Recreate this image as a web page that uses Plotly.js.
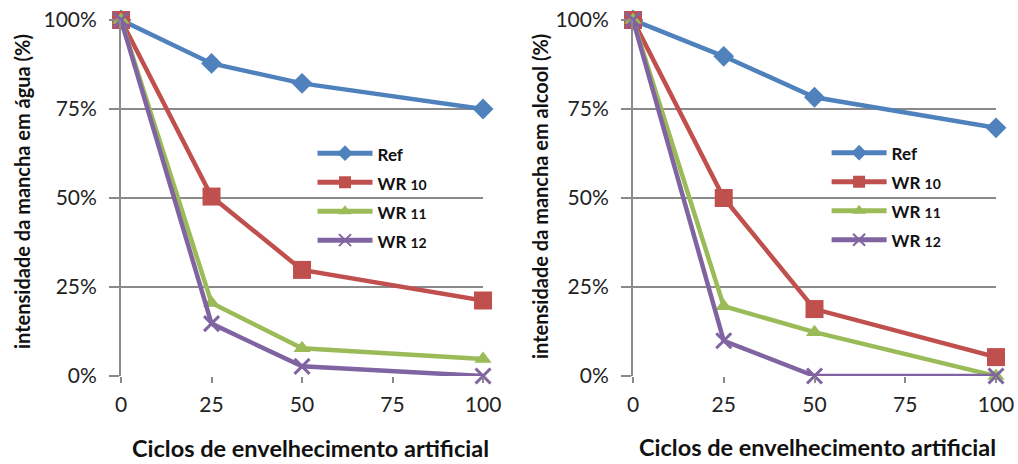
<!DOCTYPE html>
<html><head><meta charset="utf-8">
<script src="https://cdn.plot.ly/plotly-3.0.1.min.js"></script>
<style>html,body{margin:0;padding:0;background:#fff}#chart{width:1018px;height:464px}</style>
</head><body><div id="chart"></div>
<script>
const cycles = [0, 25, 50, 100];
const seriesNames = ['Ref', 'WR 10', 'WR 11', 'WR 12'];
const legendLabels = ['<span style="font-size:17px">Ref</span>',
  '<span style="font-size:17px">WR </span><span style="font-size:14px">10</span>',
  '<span style="font-size:17px">WR </span><span style="font-size:14px">11</span>',
  '<span style="font-size:17px">WR </span><span style="font-size:14px">12</span>'];
// water
const aguaRef  = [1.00, 0.878, 0.822, 0.750];
const aguaWR10 = [1.00, 0.504, 0.298, 0.212];
const aguaWR11 = [1.00, 0.205, 0.078, 0.048];
const aguaWR12 = [1.00, 0.147, 0.027, 0.000];
// alcohol
const alcoolRef  = [1.00, 0.898, 0.783, 0.697];
const alcoolWR10 = [1.00, 0.500, 0.188, 0.053];
const alcoolWR11 = [1.00, 0.196, 0.123, 0.000];
const alcoolWR12 = [1.00, 0.099, 0.000, 0.000];
const yTickVals = [0, 0.25, 0.5, 0.75, 1];
const yTickText = ['0%', '25%', '50%', '75%', '100%'];
const xTickVals = [0, 25, 50, 75, 100];
const yTitleLeft = 'intensidade da mancha em água (%)';
const yTitleRight = 'intensidade da mancha em alcool (%)';
const xTitle = 'Ciclos de envelhecimento artificial';

const colors = ['#4F81BD', '#C0504D', '#9BBB59', '#8064A2'];
const symbols = ['diamond', 'square', 'triangle-up', 'x-thin'];
const sizes = [16, 18, 15, 15];
const FONT = 'Lato, "Open Sans", sans-serif';

function mk(vals, i, xa, ya, leg) {
  const sym = symbols[i];
  return {
    x: cycles, y: vals, type: 'scatter', mode: 'lines+markers',
    name: legendLabels[i], xaxis: xa, yaxis: ya, legend: leg,
    line: {color: colors[i], width: 4.5},
    marker: {symbol: sym, size: sizes[i], color: colors[i],
             line: {color: colors[i], width: sym === 'x-thin' ? 3 : 0}},
    cliponaxis: false, hoverinfo: 'skip'
  };
}
const agua = [aguaRef, aguaWR10, aguaWR11, aguaWR12];
const alcool = [alcoolRef, alcoolWR10, alcoolWR11, alcoolWR12];
const traces = [];
agua.forEach((v, i) => traces.push(mk(v, i, 'x', 'y', 'legend')));
alcool.forEach((v, i) => traces.push(mk(v, i, 'x2', 'y2', 'legend2')));

const gridC = '#8a8a8a';
function xax(dom, anchor) {
  return {domain: dom, anchor: anchor, range: [0, 100], tickvals: xTickVals,
    ticks: 'outside', ticklen: 6, tickwidth: 2, tickcolor: gridC,
    showgrid: false, zeroline: false, showline: false,
    tickfont: {family: FONT, size: 21, color: '#222'}, ticklabelstandoff: 4, automargin: false, fixedrange: true};
}
function yax(anchor) {
  return {domain: [0.1897, 0.9569], anchor: anchor, range: [0, 1], tickvals: yTickVals, ticktext: yTickText,
    ticks: 'outside', ticklen: 10, tickwidth: 2, tickcolor: gridC,
    showgrid: true, gridcolor: gridC, gridwidth: 2, zeroline: false,
    showline: true, linecolor: gridC, linewidth: 2,
    tickfont: {family: FONT, size: 21, color: '#222'}, ticklabelstandoff: 8, automargin: false, fixedrange: true};
}
const xa1 = xax([0.1189, 0.4745], 'y');
const xa2 = xax([0.6218, 0.9784], 'y2');
const legFont = {family: FONT, size: 20, color: '#111', weight: 'bold'};
const layout = {
  width: 1018, height: 464,
  margin: {l: 0, r: 0, t: 0, b: 0},
  paper_bgcolor: '#fff', plot_bgcolor: 'rgba(0,0,0,0)',
  xaxis: xa1, yaxis: yax('x'), xaxis2: xa2, yaxis2: yax('x2'),
  showlegend: true,
  legend: {x: 0.307, y: 0.712, xanchor: 'left', yanchor: 'top', bgcolor: 'rgba(0,0,0,0)',
    font: legFont, tracegroupgap: 0, itemwidth: 55, itemsizing: 'constant'},
  legend2: {x: 0.812, y: 0.713, xanchor: 'left', yanchor: 'top', bgcolor: 'rgba(0,0,0,0)',
    font: legFont, tracegroupgap: 0, itemwidth: 55, itemsizing: 'constant'},
  annotations: [
    {text: yTitleLeft, xref: 'paper', yref: 'paper', x: 22/1018, y: 1-192/464, xanchor: 'center', yanchor: 'middle',
     textangle: -90, showarrow: false, font: {family: FONT, size: 20, color: '#111', weight: 'bold'}},
    {text: yTitleRight, xref: 'paper', yref: 'paper', x: 540/1018, y: 1-197/464, xanchor: 'center', yanchor: 'middle',
     textangle: -90, showarrow: false, font: {family: FONT, size: 20, color: '#111', weight: 'bold'}},
    {text: xTitle, xref: 'paper', yref: 'paper', x: 310/1018, y: 1-448/464, xanchor: 'center', yanchor: 'middle',
     showarrow: false, font: {family: FONT, size: 23.5, color: '#111', weight: 'bold'}},
    {text: xTitle, xref: 'paper', yref: 'paper', x: 817/1018, y: 1-447/464, xanchor: 'center', yanchor: 'middle',
     showarrow: false, font: {family: FONT, size: 23.5, color: '#111', weight: 'bold'}}
  ]
};
Plotly.newPlot('chart', traces, layout, {displayModeBar: false, staticPlot: true});
</script></body></html>
